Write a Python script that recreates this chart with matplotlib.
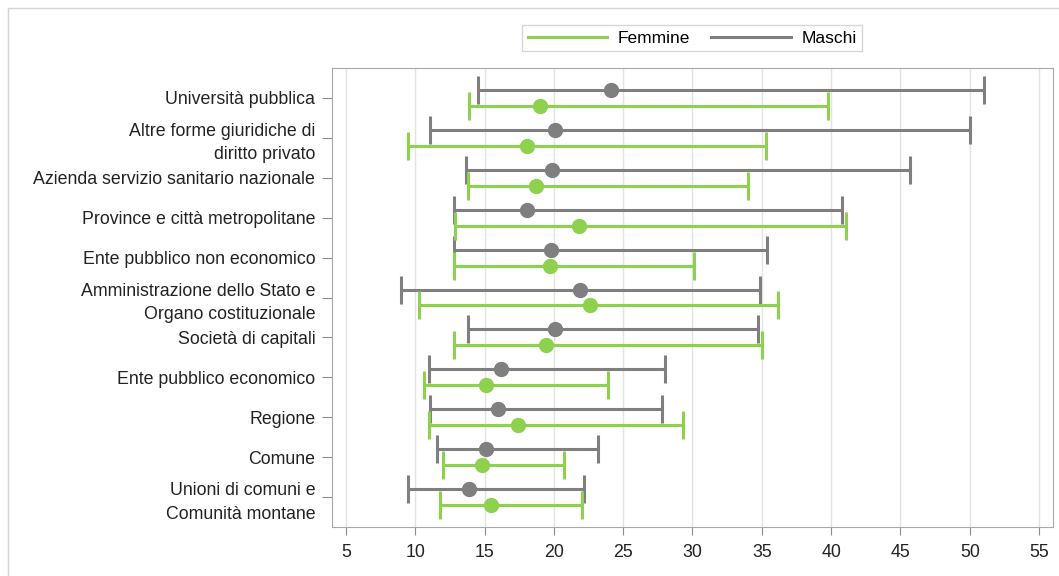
import matplotlib
matplotlib.use("Agg")
import matplotlib.pyplot as plt
from matplotlib.lines import Line2D

categories = [
    "Università pubblica",
    "Altre forme giuridiche di\ndiritto privato",
    "Azienda servizio sanitario nazionale",
    "Province e città metropolitane",
    "Ente pubblico non economico",
    "Amministrazione dello Stato e\nOrgano costituzionale",
    "Società di capitali",
    "Ente pubblico economico",
    "Regione",
    "Comune",
    "Unioni di comuni e\nComunità montane",
]

# Maschi: lower, center, upper
m_low = [14.5, 11.1, 13.7, 12.8, 12.8, 9.0, 13.8, 11.0, 11.1, 11.6, 9.5]
m_mid = [24.1, 20.1, 19.9, 18.1, 19.8, 21.9, 20.1, 16.2, 16.0, 15.1, 13.9]
m_high = [51.0, 50.0, 45.7, 40.8, 35.4, 34.9, 34.7, 28.0, 27.8, 23.2, 22.2]

# Femmine: lower, center, upper
f_low = [13.9, 9.5, 13.8, 12.9, 12.8, 10.3, 12.8, 10.6, 11.0, 12.0, 11.8]
f_mid = [19.0, 18.1, 18.7, 21.8, 19.7, 22.6, 19.4, 15.1, 17.4, 14.8, 15.5]
f_high = [39.8, 35.3, 34.0, 41.1, 30.1, 36.2, 35.0, 23.9, 29.3, 20.7, 22.0]

x_ticks = [5, 10, 15, 20, 25, 30, 35, 40, 45, 50, 55]

GREEN = "#8DD14E"
GRAY = "#7F7F7F"

plt.rcParams["font.family"] = ["Liberation Sans", "DejaVu Sans"]

fig = plt.figure(figsize=(10.59, 5.76), dpi=100)
ax = fig.add_axes([0.3135, 0.085, 0.6808, 0.797])

pos = list(range(len(categories)))
off = 0.2


def draw_series(low, mid, high, dy, color):
    ys = [p + dy for p in pos]
    err = [[m - l for m, l in zip(mid, low)], [h - m for h, m in zip(high, mid)]]
    ax.errorbar(mid, ys, xerr=err, fmt="o", color=color, ecolor=color,
                markersize=10, elinewidth=2.2, capsize=10, capthick=2.2, zorder=3)


draw_series(m_low, m_mid, m_high, -off, GRAY)
draw_series(f_low, f_mid, f_high, off, GREEN)

ax.set_xlim(4, 56)
ax.set_ylim(len(categories) - 0.25, -0.75)
ax.set_xticks(x_ticks)
ax.set_yticks(pos)
ax.set_yticklabels(categories, fontsize=12.8, linespacing=1.5)
ax.tick_params(axis="x", labelsize=12.8, colors="#8C8C8C", labelcolor="#222222", length=6, pad=6)
ax.tick_params(axis="y", colors="#8C8C8C", labelcolor="#222222", length=7, pad=5)
ax.xaxis.grid(True, color="#E3E3E3", linewidth=1)
ax.set_axisbelow(True)
for sp in ax.spines.values():
    sp.set_color("#A8A8A8")

handles = [
    Line2D([0], [0], color=GREEN, linewidth=2.2),
    Line2D([0], [0], color=GRAY, linewidth=2.2),
]
fig.legend(handles, ["Femmine", "Maschi"], loc="center", bbox_to_anchor=(0.6535, 0.934),
           ncol=2, fontsize=12.5, frameon=True, fancybox=False, edgecolor="#CCCCCC",
           handlelength=4.6, columnspacing=1.2, handletextpad=0.6, borderpad=0.3,
           borderaxespad=0)

# outer border of the chart area
fig.add_artist(Line2D([8 / 1059, 8 / 1059], [0, 1 - 8 / 576], color="#D5D5D5", linewidth=1))
fig.add_artist(Line2D([8 / 1059, 1], [1 - 8 / 576, 1 - 8 / 576], color="#D5D5D5", linewidth=1))

fig.savefig("out.png", dpi=100)
